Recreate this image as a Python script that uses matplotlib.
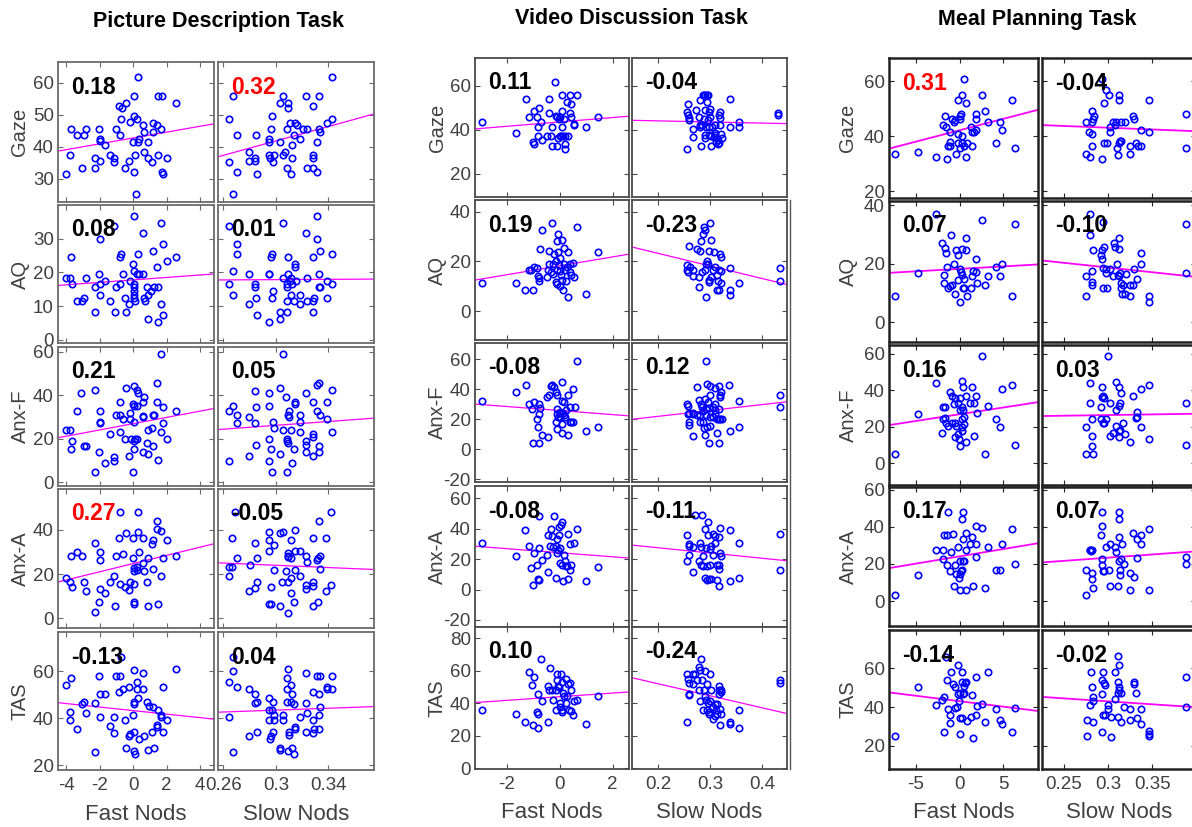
import matplotlib
matplotlib.use('Agg')
import matplotlib.pyplot as plt
import numpy as np
from matplotlib.lines import Line2D

plt.rcParams['font.family'] = ['Liberation Sans', 'DejaVu Sans']
plt.rcParams['axes.unicode_minus'] = False

# ---------------- data (x, y) pairs ----------------
# Picture Description Task
pd_gaze_fast = [(-4.04,31.5),(-3.76,37.5),(-3.7,45.6),(-3.36,43.6),(-3.08,33.4),(-2.96,43.6),(-2.84,45.6),(-2.3,36.6),(-2.28,33.4),(-2.04,45.6),(-2.0,42.6),(-1.96,41.8),(-1.96,35.5),(-1.68,40.5),(-1.4,37.5),(-1.14,36.6),(-1.14,35.3),(-1.0,45.6),(-0.84,52.8),(-0.76,43.6),(-0.7,48.6),(-0.64,52.0),(-0.44,53.8),(-0.48,33.4),(-0.24,35.5),(-0.16,47.8),(0.04,55.8),(0.04,49.7),(0.0,41.6),(0.04,32.3),(0.1,37.5),(0.16,25.3),(0.2,48.6),(0.28,61.8),(0.3,41.6),(0.36,42.6),(0.6,46.7),(0.64,44.7),(0.64,38.5),(0.9,41.6),(0.9,36.6),(1.12,35.3),(1.16,44.7),(1.2,47.6),(1.44,46.7),(1.46,37.5),(1.5,55.8),(1.66,45.6),(1.7,55.8),(1.74,32.3),(1.76,31.5),(2.04,36.6),(2.54,53.8)]
pd_gaze_slow = [(0.2643,48.6),(0.2641,35.4),(0.2674,55.8),(0.2674,25.3),(0.2702,43.6),(0.2702,32.3),(0.2796,38.5),(0.2796,35.5),(0.2842,36.6),(0.2842,35.5),(0.2852,43.6),(0.2855,31.5),(0.2944,41.6),(0.2949,42.6),(0.2944,37.5),(0.2954,36.6),(0.2964,45.6),(0.2967,49.7),(0.298,35.3),(0.2985,37.5),(0.3031,41.6),(0.3031,53.8),(0.3051,55.8),(0.3051,37.5),(0.3071,38.5),(0.3082,45.6),(0.3087,33.4),(0.3092,53.8),(0.3092,52.0),(0.3107,47.6),(0.3115,31.5),(0.312,36.6),(0.3122,40.5),(0.3138,43.6),(0.3148,47.6),(0.3158,46.7),(0.3183,42.6),(0.3209,45.6),(0.3227,55.8),(0.3234,33.4),(0.3234,45.6),(0.3285,52.8),(0.3285,37.5),(0.3285,33.4),(0.3285,36.6),(0.331,41.6),(0.3316,32.3),(0.3326,55.8),(0.3326,45.6),(0.3336,44.7),(0.3387,47.6),(0.3425,48.6),(0.3425,61.8)]
pd_aq_fast = [(-4.04,18.5),(-3.76,18.5),(-3.68,16.6),(-3.7,24.5),(-3.36,11.5),(-3.08,11.5),(-2.96,12.5),(-2.84,18.5),(-2.3,15.6),(-2.28,8.2),(-2.04,19.5),(-2.0,16.6),(-1.96,29.8),(-1.96,13.4),(-1.68,17.5),(-1.4,11.5),(-1.14,33.7),(-1.1,8.2),(-1.0,15.6),(-0.76,24.5),(-0.7,25.5),(-0.76,16.6),(-0.6,19.5),(-0.48,12.5),(-0.4,8.2),(-0.24,10.6),(-0.16,17.5),(0.04,36.7),(0.0,22.5),(0.08,20.5),(0.04,16.6),(0.04,15.6),(0.04,14.4),(0.04,13.4),(0.08,12.5),(0.12,11.5),(0.2,19.5),(0.28,25.5),(0.36,19.5),(0.6,19.5),(0.6,31.6),(0.64,12.5),(0.68,11.5),(0.84,15.6),(0.9,6.3),(0.9,13.4),(1.04,14.4),(1.16,26.5),(1.24,15.6),(1.4,21.6),(1.5,15.6),(1.46,5.3),(1.64,10.6),(1.68,34.7),(1.76,28.5),(1.8,7.3),(2.04,23.5),(2.56,24.5)]
pd_aq_slow = [(0.2641,33.7),(0.27,28.5),(0.27,25.5),(0.2674,20.5),(0.2643,16.6),(0.2674,13.4),(0.2796,19.5),(0.2796,10.6),(0.2842,16.6),(0.2842,15.6),(0.2852,12.5),(0.2855,7.3),(0.2944,19.5),(0.2949,19.5),(0.2959,24.5),(0.2967,25.5),(0.2967,12.5),(0.298,14.4),(0.2944,5.3),(0.3031,8.2),(0.3031,6.3),(0.3051,34.7),(0.3051,18.5),(0.3082,11.5),(0.3087,16.6),(0.3087,15.6),(0.3092,24.5),(0.3087,8.2),(0.3092,19.5),(0.3107,17.5),(0.3115,13.4),(0.3117,18.5),(0.3122,16.6),(0.3138,11.5),(0.3146,22.5),(0.3148,21.5),(0.3153,17.5),(0.3183,13.4),(0.3183,10.6),(0.3227,31.6),(0.3234,18.5),(0.3234,11.5),(0.3285,24.5),(0.3285,11.5),(0.3285,8.2),(0.329,12.5),(0.3316,36.7),(0.3316,29.8),(0.3326,19.5),(0.3336,26.5),(0.3326,15.6),(0.3336,15.6),(0.3387,17.5),(0.3387,12.5),(0.3425,25.5),(0.3425,16.6)]
pd_anxf_fast = [(1.66,59.1),(-3.1,40.9),(-2.3,42.5),(-3.36,32.9),(-2.0,32.9),(-0.8,37.1),(-0.44,43.2),(0.04,44.3),(0.24,42.5),(0.3,41.2),(0.64,39.1),(0.56,37.1),(0.0,36.0),(0.08,35.1),(0.2,35.1),(1.44,45.5),(1.4,37.1),(1.76,34.5),(2.56,32.9),(-1.0,30.9),(-0.76,30.9),(-0.16,31.7),(0.6,30.5),(1.24,30.9),(-4.04,24.0),(-3.76,24.0),(-3.68,19.1),(-3.7,15.1),(-2.96,16.8),(-2.84,16.8),(-2.3,4.8),(-2.04,14.0),(-2.0,27.8),(-1.96,27.1),(-1.68,8.9),(-1.4,22.2),(-1.16,9.7),(-1.12,11.7),(-0.76,23.1),(-0.6,28.9),(-0.48,19.8),(-0.24,12.0),(-0.2,28.9),(-0.1,19.8),(0.04,27.8),(0.04,19.1),(0.1,19.8),(0.0,4.8),(0.04,15.1),(0.2,19.8),(0.6,30.1),(0.6,14.0),(0.84,17.9),(0.9,24.0),(0.9,13.1),(1.16,16.8),(1.12,25.1),(1.2,30.9),(1.46,10.2),(1.64,23.1),(1.76,27.1),(2.04,19.8)]
pd_anxf_slow = [(0.3051,59.1),(0.2643,32.9),(0.2674,35.1),(0.2702,30.9),(0.2796,30.1),(0.2842,42.1),(0.2852,34.5),(0.2944,35.1),(0.2949,40.9),(0.3031,43.2),(0.3077,39.1),(0.3097,32.9),(0.3143,37.1),(0.3148,36.0),(0.3092,30.9),(0.3183,30.9),(0.3229,41.2),(0.3285,37.1),(0.331,44.8),(0.3326,45.5),(0.3316,32.9),(0.3336,30.9),(0.3387,37.1),(0.3425,42.5),(0.2643,9.8),(0.2702,27.1),(0.2796,12.0),(0.2842,27.1),(0.2852,17.1),(0.2944,19.8),(0.2944,9.8),(0.2964,15.1),(0.2967,4.8),(0.298,27.8),(0.2985,24.8),(0.3031,12.9),(0.3051,24.0),(0.3087,19.8),(0.3087,19.1),(0.3092,17.9),(0.3087,4.8),(0.3097,30.1),(0.3115,24.0),(0.312,8.9),(0.3138,15.1),(0.3183,27.8),(0.3183,23.1),(0.3227,19.1),(0.3229,17.1),(0.3229,13.8),(0.3285,22.2),(0.3285,20.6),(0.3285,12.0),(0.3331,16.8),(0.3326,13.8),(0.3387,28.9),(0.3425,23.1)]
pd_anxa_fast = [(-4.04,18.3),(-3.76,16.6),(-3.7,28.2),(-3.68,14.3),(-3.36,30.2),(-3.08,28.2),(-2.96,16.6),(-2.84,12.5),(-2.3,34.3),(-2.28,2.6),(-2.04,7.2),(-2.0,30.2),(-1.96,26.4),(-1.96,13.3),(-1.68,11.3),(-1.4,16.6),(-1.16,19.2),(-1.1,5.6),(-1.0,28.2),(-0.84,36.2),(-0.76,48.3),(-0.76,15.4),(-0.6,29.3),(-0.48,14.3),(-0.44,38.5),(-0.24,12.8),(-0.2,16.6),(0.0,27.5),(0.0,36.2),(0.04,15.4),(0.04,22.6),(0.04,21.6),(0.08,7.2),(0.08,6.3),(0.2,23.4),(0.24,21.9),(0.28,48.3),(0.3,39.2),(0.32,30.2),(0.56,25.2),(0.6,36.2),(0.64,21.4),(0.84,16.6),(0.9,5.6),(0.9,27.5),(1.12,33.5),(1.16,22.2),(1.2,35.5),(1.4,40.3),(1.44,44.1),(1.48,6.3),(1.64,19.2),(1.68,39.7),(1.76,27.5),(2.04,35.5),(2.56,28.2)]
pd_anxa_slow = [(0.2689,48.3),(0.2669,36.2),(0.2643,23.3),(0.2669,23.3),(0.2643,19.0),(0.2702,27.3),(0.2799,24.2),(0.2855,27.3),(0.2796,12.4),(0.2837,13.5),(0.2855,16.5),(0.2842,34.2),(0.2944,39.2),(0.2949,35.3),(0.2982,33.2),(0.2949,30.3),(0.3031,38.5),(0.3054,39.2),(0.3148,40.1),(0.3112,35.3),(0.2982,22.0),(0.2964,14.2),(0.2947,6.4),(0.2964,6.4),(0.3031,5.3),(0.3089,2.3),(0.3089,29.4),(0.3089,28.2),(0.3094,27.9),(0.3112,27.1),(0.3143,30.3),(0.3183,30.3),(0.3076,21.2),(0.3148,22.0),(0.3181,19.0),(0.3112,18.0),(0.3089,16.2),(0.3048,16.2),(0.3115,11.2),(0.314,7.1),(0.3227,28.3),(0.3237,25.6),(0.3283,36.2),(0.3313,26.5),(0.3321,27.3),(0.3339,28.3),(0.3334,22.3),(0.3227,15.1),(0.3227,13.2),(0.3286,16.2),(0.3286,14.4),(0.3286,5.3),(0.3321,7.1),(0.3385,36.2),(0.3326,44.0),(0.3423,48.3),(0.3385,12.4),(0.3423,15.0)]
pd_tas_fast = [(-4.04,54.0),(-3.76,42.7),(-3.7,57.0),(-3.76,39.3),(-3.36,35.3),(-3.08,46.0),(-2.96,47.0),(-2.84,42.1),(-2.3,25.4),(-2.28,46.2),(-2.04,58.0),(-2.0,40.3),(-1.96,50.2),(-1.68,50.2),(-1.4,36.6),(-1.14,33.5),(-1.14,40.3),(-1.0,58.0),(-0.84,51.2),(-0.76,58.0),(-0.7,65.8),(-0.6,52.2),(-0.48,39.3),(-0.44,27.2),(-0.24,53.2),(-0.24,32.5),(-0.16,33.2),(0.0,41.3),(0.04,60.4),(0.04,46.0),(0.08,47.0),(0.08,25.8),(0.12,24.7),(0.08,34.2),(0.2,55.2),(0.24,52.2),(0.28,48.5),(0.36,31.1),(0.6,59.0),(0.6,52.2),(0.64,32.5),(0.84,47.0),(0.9,26.5),(0.92,45.2),(1.12,34.2),(1.16,44.5),(1.24,27.2),(1.4,36.0),(1.44,37.0),(1.48,43.4),(1.64,41.3),(1.68,40.3),(1.76,53.2),(1.8,34.2),(2.04,39.3),(2.56,60.9)]
pd_tas_slow = [(0.2641,40.3),(0.2643,55.2),(0.2674,65.8),(0.2674,60.1),(0.2702,53.2),(0.2674,25.4),(0.2796,52.2),(0.2796,32.5),(0.2842,50.2),(0.2842,46.2),(0.2855,47.0),(0.2855,34.2),(0.2944,48.5),(0.2944,43.4),(0.2949,39.3),(0.2954,31.1),(0.2964,32.5),(0.2967,43.4),(0.298,47.0),(0.298,34.2),(0.2985,41.3),(0.2985,39.3),(0.3031,27.2),(0.3031,26.5),(0.3051,41.3),(0.3051,39.3),(0.3082,47.0),(0.3087,57.2),(0.3087,52.2),(0.3092,60.9),(0.3092,25.8),(0.3097,33.9),(0.3097,32.8),(0.3112,47.0),(0.3117,54.2),(0.312,50.2),(0.3122,27.2),(0.3138,24.7),(0.3138,46.0),(0.3143,35.3),(0.3148,36.0),(0.3183,40.3),(0.3227,59.0),(0.3229,46.2),(0.3229,34.2),(0.3239,42.0),(0.3285,51.2),(0.3285,39.3),(0.3285,33.5),(0.329,35.3),(0.331,58.0),(0.3326,50.2),(0.3336,58.0),(0.3336,44.5),(0.3326,41.3),(0.3331,35.3),(0.3387,53.2),(0.3387,52.2),(0.3425,58.0),(0.3425,52.2)]

# Video Discussion Task
vd_gaze_fast = [(-2.94,43.5),(-1.65,38.6),(-1.27,54.0),(-1.15,45.7),(-0.98,48.7),(-1.02,34.4),(-0.98,33.5),(-0.86,45.7),(-0.81,41.5),(-0.78,49.8),(-0.71,43.8),(-0.81,37.4),(-0.68,35.6),(-0.48,37.4),(-0.40,47.7),(-0.38,54.0),(-0.33,37.4),(-0.29,41.5),(-0.28,32.6),(-0.19,61.8),(-0.15,46.5),(-0.10,45.7),(-0.08,32.6),(-0.05,36.5),(-0.03,45.0),(0.0,37.4),(0.03,45.7),(0.05,37.1),(0.08,41.5),(0.08,48.7),(0.10,55.8),(0.13,37.4),(0.15,45.0),(0.20,33.5),(0.20,31.4),(0.20,37.4),(0.28,52.8),(0.33,37.4),(0.38,55.8),(0.38,47.7),(0.43,51.6),(0.45,45.7),(0.53,42.7),(0.56,42.3),(0.66,55.8),(1.00,41.5),(1.44,45.7)]
vd_gaze_slow = [(0.2571,51.7),(0.2564,48.2),(0.2577,46.7),(0.259,45.6),(0.2603,44.7),(0.2558,31.5),(0.2667,40.6),(0.2667,36.8),(0.2737,48.9),(0.2782,45.9),(0.2814,53.8),(0.2833,32.6),(0.2846,42.4),(0.2859,55.8),(0.2885,55.8),(0.291,55.8),(0.2936,55.8),(0.2962,55.8),(0.2885,45.1),(0.291,48.9),(0.2942,52.7),(0.2974,48.2),(0.2999,49.7),(0.2962,44.7),(0.2923,41.4),(0.2974,41.4),(0.3038,41.4),(0.3006,45.9),(0.291,37.6),(0.2974,37.6),(0.291,36.1),(0.3013,37.1),(0.3013,32.6),(0.2814,42.4),(0.2808,41.4),(0.309,42.4),(0.3077,36.8),(0.3103,37.6),(0.3115,34.5),(0.3154,35.6),(0.3154,33.8),(0.318,33.9),(0.3199,48.2),(0.318,46.7),(0.3199,45.6),(0.3218,38.3),(0.3231,36.1),(0.3199,42.4),(0.309,38.8),(0.3378,53.9),(0.3378,41.4),(0.3564,43.6),(0.3564,41.4),(0.4317,47.7),(0.4317,46.7)]
vd_aq_fast = [(-2.94,11.5),(-1.65,11.5),(-1.29,8.5),(-1.01,8.5),(-1.15,16.4),(-1.06,16.6),(-0.98,17.7),(-0.86,17.4),(-0.81,14.2),(-0.78,12.3),(-0.78,13.4),(-0.73,25.1),(-0.68,32.8),(-0.48,13.6),(-0.43,16.6),(-0.40,19.1),(-0.38,24.2),(-0.33,15.7),(-0.29,35.5),(-0.25,19.1),(-0.23,15.0),(-0.20,23.1),(-0.15,20.1),(-0.15,11.6),(-0.10,16.4),(-0.08,28.2),(-0.08,10.9),(-0.05,31.2),(-0.05,23.8),(-0.03,18.4),(0.0,21.5),(0.0,9.9),(0.03,16.1),(0.05,14.7),(0.08,28.8),(0.10,12.6),(0.13,8.5),(0.15,25.5),(0.18,19.1),(0.20,16.6),(0.23,12.3),(0.28,17.7),(0.33,23.8),(0.33,5.8),(0.38,15.7),(0.40,19.1),(0.45,14.7),(0.50,19.3),(0.56,13.6),(0.66,33.9),(1.00,6.9),(1.44,23.8)]
vd_aq_slow = [(0.2561,18.4),(0.2561,16.6),(0.2574,15.7),(0.2587,26.1),(0.2613,17.7),(0.2665,14.3),(0.2677,16.6),(0.2742,25.1),(0.2781,9.6),(0.2794,13.6),(0.2806,24.2),(0.2832,28.2),(0.2845,15.7),(0.2871,31.2),(0.2884,33.9),(0.2897,16.6),(0.291,32.8),(0.2923,5.8),(0.2923,19.1),(0.2935,20.1),(0.2961,19.1),(0.2974,11.6),(0.2987,24.2),(0.2987,12.6),(0.3,35.5),(0.3013,28.8),(0.3026,13.6),(0.3052,16.6),(0.3077,23.8),(0.3103,17.7),(0.3129,14.7),(0.3142,8.5),(0.3155,12.3),(0.3181,16.4),(0.3181,8.5),(0.3194,23.1),(0.3206,21.8),(0.3206,16.1),(0.3219,11.5),(0.3387,17.3),(0.3387,8.5),(0.3387,6.6),(0.3568,11.5),(0.4342,17.3),(0.4342,12.3)]
vd_anxf_fast = [(-2.94,32.5),(-1.65,37.9),(-1.27,42.6),(-1.15,30.3),(-0.98,31.8),(-0.78,30.3),(-0.73,27.4),(-1.03,26.7),(-0.48,34.8),(-0.40,36.3),(-0.33,41.9),(-0.28,43.0),(-0.20,41.5),(-0.15,38.5),(-0.10,36.3),(0.08,44.6),(0.08,32.5),(0.15,31.8),(0.33,36.3),(0.40,28.4),(0.50,40.1),(0.58,28.4),(0.66,58.7),(-0.08,27.0),(0.0,24.0),(0.13,24.0),(-1.01,4.3),(-0.78,4.3),(-0.43,7.9),(-0.68,9.4),(-0.86,20.0),(-0.81,14.6),(-0.78,23.5),(-0.15,18.4),(-0.10,23.5),(-0.08,13.2),(-0.05,21.7),(0.0,25.1),(0.03,21.7),(0.08,11.0),(0.10,16.8),(0.15,22.9),(0.20,21.3),(0.23,26.2),(0.33,9.4),(0.38,18.4),(0.45,18.4),(0.50,18.1),(1.00,12.3),(1.44,14.6)]
vd_anxf_slow = [(0.2923,58.7),(0.2742,41.5),(0.2948,43.7),(0.3,41.9),(0.3097,40.8),(0.3181,41.9),(0.3206,38.5),(0.3194,35.2),(0.3374,43.0),(0.3568,32.5),(0.4342,36.3),(0.4342,28.4),(0.2561,30.3),(0.2574,28.9),(0.2587,24.0),(0.2665,24.0),(0.2794,32.9),(0.2832,30.3),(0.2845,28.4),(0.2871,25.7),(0.291,33.4),(0.2923,26.7),(0.2961,31.8),(0.3,36.3),(0.3065,28.4),(0.3103,30.3),(0.3181,26.7),(0.3194,36.3),(0.2987,27.4),(0.2574,23.5),(0.2587,18.4),(0.2587,16.1),(0.2665,8.7),(0.2677,23.5),(0.2742,22.9),(0.2806,22.9),(0.2806,18.1),(0.2871,18.4),(0.2884,13.9),(0.291,9.4),(0.2923,22.9),(0.2935,14.6),(0.2987,4.3),(0.3,21.7),(0.3,15.3),(0.3065,21.7),(0.309,26.2),(0.3129,20.0),(0.3142,11.0),(0.3168,20.0),(0.3181,4.3),(0.3194,20.0),(0.3232,20.0),(0.3387,12.3),(0.3568,14.6),(0.3103,23.5)]
vd_anxa_fast = [(-2.94,30.7),(-1.65,21.9),(-1.29,38.8),(-1.15,28.9),(-1.01,2.8),(-0.98,23.7),(-1.06,14.0),(-0.86,16.4),(-0.81,7.0),(-0.78,6.1),(-0.78,27.4),(-0.78,48.2),(-0.68,19.7),(-0.48,22.6),(-0.43,11.8),(-0.43,35.5),(-0.33,39.5),(-0.35,28.9),(-0.28,35.1),(-0.25,28.1),(-0.20,48.2),(-0.15,28.5),(-0.15,7.7),(-0.10,33.5),(-0.08,23.7),(-0.05,25.9),(-0.03,35.5),(-0.03,41.2),(0.0,17.5),(0.03,27.4),(0.05,42.7),(0.08,44.5),(0.10,16.4),(0.13,5.9),(0.15,23.0),(0.20,18.6),(0.23,15.3),(0.28,15.3),(0.33,36.8),(0.33,7.0),(0.38,12.7),(0.40,29.6),(0.45,16.4),(0.56,30.7),(0.66,39.9),(1.00,5.9),(1.44,14.7)]
vd_anxa_slow = [(0.2561,35.5),(0.2561,18.6),(0.2587,29.6),(0.2587,28.5),(0.26,22.8),(0.2665,28.1),(0.2677,11.8),(0.2716,48.7),(0.2794,18.6),(0.2806,30.7),(0.2832,28.1),(0.2832,16.4),(0.2845,48.7),(0.2858,21.9),(0.2871,15.3),(0.291,39.5),(0.291,7.7),(0.2923,27.4),(0.2935,15.3),(0.2948,6.1),(0.2961,44.3),(0.2961,35.7),(0.2974,7.0),(0.3,26.3),(0.3,16.4),(0.3013,28.5),(0.3026,7.0),(0.3052,36.8),(0.3065,23.0),(0.309,30.7),(0.3103,35.1),(0.3129,16.4),(0.3142,6.1),(0.3168,34.4),(0.3181,16.4),(0.3181,13.6),(0.3181,2.6),(0.3194,40.5),(0.3194,23.7),(0.3206,21.9),(0.3387,38.8),(0.3387,5.9),(0.3568,30.7),(0.3568,7.7),(0.4342,36.6),(0.4342,12.7)]
vd_tas_fast = [(-2.94,35.9),(-1.65,33.0),(-1.29,28.1),(-1.01,26.3),(-0.81,24.8),(-1.15,58.9),(-0.98,56.0),(-1.03,50.9),(-0.81,45.7),(-0.86,34.5),(-0.81,33.0),(-0.71,67.3),(-0.68,41.2),(-0.43,28.1),(-0.43,50.7),(-0.35,61.7),(-0.40,48.2),(-0.28,48.2),(-0.25,41.6),(-0.15,48.2),(-0.15,35.5),(-0.10,58.1),(-0.08,53.9),(-0.05,50.7),(-0.03,49.8),(0.0,40.0),(0.03,37.5),(0.05,58.1),(0.08,35.5),(0.10,52.9),(0.10,34.5),(0.13,46.2),(0.18,44.1),(0.23,40.0),(0.25,55.0),(0.28,44.1),(0.33,51.9),(0.35,35.5),(0.40,52.3),(0.43,35.1),(0.45,48.2),(0.50,32.4),(0.53,41.2),(0.66,41.6),(1.00,26.9),(1.44,44.1)]
vd_tas_slow = [(0.2561,28.3),(0.2561,58.1),(0.2574,55.0),(0.2587,52.3),(0.2587,44.7),(0.26,45.7),(0.2665,51.9),(0.2677,58.1),(0.2716,58.1),(0.2742,53.9),(0.2781,62.2),(0.2794,48.2),(0.2806,60.1),(0.2806,41.2),(0.2832,67.3),(0.2845,54.4),(0.2871,35.5),(0.2884,47.8),(0.2897,59.7),(0.291,44.1),(0.2923,41.6),(0.2935,35.9),(0.2935,51.5),(0.2961,40.0),(0.2974,34.5),(0.2987,33.0),(0.3,58.1),(0.3,41.2),(0.3026,48.2),(0.3052,37.5),(0.3065,30.4),(0.309,31.8),(0.3103,39.2),(0.3116,35.5),(0.3129,39.6),(0.3142,33.0),(0.3168,47.8),(0.3181,50.7),(0.3181,45.7),(0.3194,36.5),(0.3194,26.3),(0.3206,33.0),(0.3206,48.2),(0.3219,46.8),(0.3387,28.3),(0.3387,26.9),(0.3568,35.9),(0.3568,24.8),(0.4342,53.9),(0.4342,52.3)]

# Meal Planning Task
mp_gaze_fast = [(-7.37,33.6),(-4.81,34.3),(-2.71,32.5),(-1.91,44.2),(-1.68,47.3),(-1.53,43.3),(-1.45,31.5),(-1.30,36.5),(-1.15,36.5),(-1.07,41.5),(-1.15,37.9),(-0.84,46.4),(-0.69,45.2),(-0.53,46.0),(-0.38,33.4),(-0.23,53.2),(-0.15,37.6),(-0.15,40.6),(0.0,46.4),(0.0,35.5),(0.08,47.3),(0.15,48.1),(0.23,55.1),(0.31,40.0),(0.31,37.6),(0.46,60.9),(0.53,36.5),(0.69,52.1),(0.76,32.5),(0.84,37.6),(1.37,36.5),(1.30,43.3),(1.45,41.5),(1.60,41.6),(1.91,42.4),(1.91,48.1),(1.91,46.4),(2.52,55.1),(2.90,49.1),(3.28,45.2),(4.20,37.6),(4.58,45.2),(4.81,42.2),(5.95,53.1),(6.34,35.5)]
mp_gaze_slow = [(0.2755,33.6),(0.2792,32.5),(0.2755,45.2),(0.2785,41.6),(0.2815,40.6),(0.2823,45.2),(0.2823,36.5),(0.2823,49.3),(0.283,46.4),(0.2838,47.3),(0.2925,31.5),(0.2928,60.9),(0.2951,37.6),(0.2958,52.1),(0.2974,56.6),(0.2989,37.6),(0.3004,55.1),(0.3019,41.6),(0.3026,43.3),(0.3057,45.2),(0.3072,44.2),(0.3087,45.2),(0.3102,35.5),(0.3109,33.1),(0.3117,55.1),(0.3117,37.6),(0.3125,53.2),(0.3132,38.4),(0.314,45.2),(0.3147,38.2),(0.3185,45.2),(0.3245,33.6),(0.3245,36.5),(0.3283,47.3),(0.3291,46.4),(0.3313,37.6),(0.3336,36.5),(0.3366,42.4),(0.3374,36.5),(0.3457,41.5),(0.3457,53.1),(0.3879,48.2),(0.3879,35.5)]
mp_aq_fast = [(-7.37,8.8),(-4.81,16.8),(-2.71,36.8),(-1.98,26.9),(-1.68,25.4),(-1.53,23.7),(-1.45,18.9),(-1.76,16.0),(-1.83,13.5),(-1.30,11.7),(-1.15,12.3),(-0.99,29.7),(-0.84,12.8),(-0.61,19.7),(-0.53,9.7),(-0.38,24.6),(-0.23,14.3),(-0.15,22.9),(0.0,6.9),(0.0,18.1),(0.15,17.1),(0.23,25.1),(0.31,16.0),(0.38,11.7),(0.46,14.9),(0.53,11.7),(0.69,24.6),(0.76,28.8),(0.84,8.8),(1.30,11.7),(1.37,15.8),(1.53,17.4),(1.91,17.1),(1.91,21.7),(1.98,13.5),(2.52,34.9),(2.90,12.6),(3.28,15.8),(4.20,18.9),(4.58,15.8),(4.81,19.7),(5.95,8.8),(6.34,33.7)]
mp_aq_slow = [(0.2755,8.8),(0.2755,15.8),(0.2792,36.8),(0.2792,29.7),(0.2815,13.7),(0.2823,12.6),(0.2823,17.4),(0.283,24.6),(0.2921,22.9),(0.2928,21.7),(0.2936,24.6),(0.2943,11.7),(0.2943,18.5),(0.2951,25.7),(0.2974,18.1),(0.2981,16.9),(0.2992,11.7),(0.3026,18.1),(0.3057,15.8),(0.3064,26.9),(0.308,25.7),(0.3102,19.7),(0.3109,16.0),(0.3117,28.8),(0.3125,24.9),(0.3117,15.8),(0.3132,16.9),(0.314,11.7),(0.3147,13.5),(0.3155,9.7),(0.317,12.8),(0.3185,9.7),(0.32,16.6),(0.3245,8.8),(0.3245,12.6),(0.3283,12.6),(0.3291,18.1),(0.3321,14.9),(0.3366,23.7),(0.3366,19.7),(0.3457,8.8),(0.3457,6.9),(0.3879,33.7),(0.3879,16.8),(0.2943,34.1)]
mp_anxf_fast = [(-4.81,27.0),(-2.71,43.9),(-1.91,30.7),(-1.68,30.7),(-1.15,39.3),(-0.92,36.9),(-0.69,32.5),(-0.53,35.6),(-0.15,32.9),(0.0,35.6),(0.31,45.3),(0.38,42.0),(0.38,29.2),(0.23,30.7),(0.69,36.9),(1.15,32.9),(1.45,41.7),(1.60,32.9),(1.91,36.9),(1.98,27.4),(2.52,59.0),(3.28,31.4),(4.81,40.6),(5.95,43.0),(0.0,29.2),(-7.37,5.0),(-1.91,24.1),(-1.68,24.6),(-1.98,16.7),(-1.30,20.4),(-1.53,21.9),(-0.84,21.9),(-0.53,22.2),(-0.38,20.4),(-0.53,14.2),(-0.23,16.0),(-0.08,13.0),(0.0,9.4),(0.23,20.0),(0.31,24.1),(0.31,17.8),(0.46,21.5),(0.53,25.5),(0.76,11.7),(1.60,14.9),(2.90,5.0),(4.20,24.1),(4.58,20.0),(6.34,9.9)]
mp_anxf_slow = [(0.2792,43.9),(0.2928,41.7),(0.2943,36.9),(0.2936,36.4),(0.2951,35.6),(0.2996,59.0),(0.2792,32.9),(0.2921,30.7),(0.3026,32.9),(0.3094,44.6),(0.3117,41.7),(0.3132,32.9),(0.3147,38.7),(0.3125,31.4),(0.3283,36.9),(0.3366,40.6),(0.3457,43.0),(0.3879,32.9),(0.3094,29.2),(0.3321,28.1),(0.2755,20.0),(0.2755,5.0),(0.2823,24.1),(0.2823,14.9),(0.2823,9.4),(0.283,5.0),(0.2921,24.1),(0.2943,21.9),(0.2958,22.2),(0.2981,24.1),(0.3026,14.9),(0.3057,16.7),(0.3094,20.4),(0.3117,14.2),(0.3125,17.8),(0.3132,18.1),(0.317,22.2),(0.3185,16.0),(0.3245,11.7),(0.3313,24.6),(0.3328,25.5),(0.3366,20.0),(0.3457,13.0),(0.3879,9.9)]
mp_anxa_fast = [(-7.37,3.1),(-4.81,13.9),(-2.71,27.6),(-1.91,27.6),(-1.91,22.5),(-1.76,35.5),(-1.45,35.5),(-1.45,19.3),(-1.30,48.3),(-1.15,16.4),(-0.99,26.7),(-0.76,36.2),(-0.53,19.3),(-0.61,8.1),(-0.38,14.6),(-0.23,29.4),(0.0,5.9),(-0.08,12.3),(0.0,21.8),(0.08,14.6),(0.15,16.0),(0.23,16.8),(0.31,44.3),(0.38,48.3),(0.38,21.6),(0.38,33.7),(0.53,21.8),(0.69,36.6),(0.76,27.6),(0.76,5.9),(1.15,30.6),(1.45,34.4),(1.53,8.1),(1.83,24.0),(1.91,40.7),(2.52,39.6),(1.91,30.6),(2.90,6.8),(3.28,29.0),(4.20,16.8),(4.58,16.8),(4.81,30.6),(5.95,38.7),(6.34,19.8)]
mp_anxa_slow = [(0.2755,3.1),(0.2755,16.8),(0.2792,27.6),(0.28,27.6),(0.2808,26.8),(0.2815,27.6),(0.2823,15.0),(0.2823,11.7),(0.283,6.8),(0.2928,48.3),(0.2921,35.5),(0.2936,40.5),(0.2928,22.9),(0.2928,19.3),(0.2943,16.4),(0.2951,16.4),(0.2974,29.4),(0.3004,16.8),(0.3026,30.6),(0.3026,8.1),(0.3072,29.4),(0.3094,26.7),(0.3109,8.1),(0.3117,48.3),(0.3117,44.3),(0.3117,34.4),(0.3117,21.8),(0.3132,13.9),(0.3132,16.8),(0.3147,22.5),(0.3155,30.6),(0.3177,20.0),(0.3245,5.9),(0.3245,15.0),(0.3283,36.6),(0.3291,12.8),(0.3321,23.1),(0.3328,33.7),(0.3366,30.6),(0.3374,35.5),(0.3457,38.7),(0.3457,5.9),(0.3879,24.0),(0.3879,19.8)]
mp_tas_fast = [(-7.37,25.0),(-4.81,50.2),(-2.71,41.2),(-1.83,45.1),(-1.98,43.7),(-1.76,27.2),(-1.45,54.0),(-1.53,65.9),(-1.30,39.1),(-1.15,35.7),(-1.15,31.8),(-0.99,57.9),(-0.76,51.6),(-0.53,50.2),(-0.53,39.7),(-0.31,40.0),(-0.23,61.3),(-0.15,46.8),(-0.08,43.1),(0.0,26.4),(0.08,47.1),(0.23,57.9),(0.23,52.8),(0.31,34.6),(0.38,46.8),(0.46,50.6),(0.53,47.1),(0.61,52.3),(0.76,52.8),(0.84,32.9),(1.30,34.9),(1.45,46.0),(1.53,24.2),(1.83,35.7),(1.91,55.3),(1.98,40.3),(2.52,41.4),(2.90,32.2),(3.28,57.9),(4.20,39.1),(4.58,33.2),(4.81,31.1),(5.95,27.2),(6.34,39.7),(0.0,34.6)]
mp_tas_slow = [(0.3112,66.2),(0.3127,61.5),(0.2801,58.1),(0.294,58.1),(0.3075,58.1),(0.2925,53.8),(0.2952,52.5),(0.2963,51.3),(0.282,50.1),(0.3112,53.0),(0.3119,50.4),(0.3127,48.7),(0.315,47.4),(0.3112,47.0),(0.3292,53.0),(0.3292,51.6),(0.2828,45.3),(0.2828,43.2),(0.2933,46.5),(0.3318,47.4),(0.2798,41.0),(0.3075,44.1),(0.3,41.0),(0.3,38.8),(0.318,39.8),(0.3244,39.1),(0.3371,39.1),(0.2944,35.9),(0.297,35.9),(0.3034,35.0),(0.3112,35.0),(0.2764,33.3),(0.2831,32.1),(0.3146,32.1),(0.3247,33.3),(0.3322,34.2),(0.3371,31.3),(0.2929,27.3),(0.3457,27.7),(0.3457,26.2),(0.3457,25.1),(0.2764,25.1),(0.3034,24.5),(0.3876,55.2),(0.3876,39.8)]

# correlation labels shown in each panel (fast, slow) and significance flags
row_labels = ['Gaze', 'AQ', 'Anx-F', 'Anx-A', 'TAS']
pd_r = [('0.18', '0.32'), ('0.08', '0.01'), ('0.21', '0.05'), ('0.27', '-0.05'), ('-0.13', '0.04')]
pd_sig = [(False, True), (False, False), (False, False), (True, False), (False, False)]
vd_r = [('0.11', '-0.04'), ('0.19', '-0.23'), ('-0.08', '0.12'), ('-0.08', '-0.11'), ('0.10', '-0.24')]
vd_sig = [(False, False)] * 5
mp_r = [('0.31', '-0.04'), ('0.07', '-0.10'), ('0.16', '0.03'), ('0.17', '0.07'), ('-0.14', '-0.02')]
mp_sig = [(True, False), (False, False), (False, False), (False, False), (False, False)]

# --------------------------- layout ---------------------------
W, H = 1192, 827
fig = plt.figure(figsize=(W / 100, H / 100), dpi=100)


def rect(x1, y1, x2, y2):
    return [x1 / W, 1 - y2 / H, (x2 - x1) / W, (y2 - y1) / H]


groups = [
    dict(title='Picture Description Task', tx=218, ty=22,
         cols=[(58, 214), (218, 374)],
         rows=[(62, 202), (205, 343), (347, 486), (489, 628), (632, 770)],
         xlims=[(-4.5, 4.84), (0.2559, 0.3747)],
         xticks=[[-4, -2, 0, 2, 4], [0.26, 0.30, 0.34]],
         xtl=[['-4', '-2', '0', '2', '4'], ['0.26', '0.3', '0.34']],
         ylims=[(22.8, 66.5), (-0.9, 40), (-1.8, 62.3), (-4.5, 58.6), (17.9, 76.6)],
         yticks=[[30, 40, 50, 60], [0, 10, 20, 30], [0, 20, 40, 60], [0, 20, 40], [20, 40, 60]],
         data=[[pd_gaze_fast, pd_gaze_slow], [pd_aq_fast, pd_aq_slow], [pd_anxf_fast, pd_anxf_slow],
               [pd_anxa_fast, pd_anxa_slow], [pd_tas_fast, pd_tas_slow]],
         r=pd_r, sig=pd_sig, ylab_x=20, fc='#6a6a6a', flw=1.3, llw=0.9),
    dict(title='Video Discussion Task', tx=631, ty=18,
         cols=[(475, 629), (632, 787)],
         rows=[(58, 197), (200, 340), (343, 482), (486, 627), (627, 769)],
         xlims=[(-3.19, 2.62), (0.1497, 0.4484)],
         xticks=[[-2, 0, 2], [0.2, 0.3, 0.4]],
         xtl=[['-2', '0', '2'], ['0.2', '0.3', '0.4']],
         ylims=[(9.5, 72.7), (-11.7, 44.8), (-22, 71), (-24.6, 68), (-0.6, 86.8)],
         yticks=[[20, 40, 60], [0, 20, 40], [-20, 0, 20, 40, 60], [-20, 0, 20, 40, 60], [0, 20, 40, 60, 80]],
         data=[[vd_gaze_fast, vd_gaze_slow], [vd_aq_fast, vd_aq_slow], [vd_anxf_fast, vd_anxf_slow],
               [vd_anxa_fast, vd_anxa_slow], [vd_tas_fast, vd_tas_slow]],
         r=vd_r, sig=vd_sig, ylab_x=437, fc='#4a4a4a', flw=1.3, llw=0.9),
    dict(title='Meal Planning Task', tx=1037, ty=20,
         cols=[(889, 1038), (1042, 1196)],
         rows=[(58, 198), (201, 342), (345, 485), (487, 626), (630, 769)],
         xlims=[(-8.09, 8.97), (0.2253, 0.3992)],
         xticks=[[-5, 0, 5], [0.25, 0.30, 0.35]],
         xtl=[['-5', '0', '5'], ['0.25', '0.3', '0.35']],
         ylims=[(17.5, 68.4), (-6.8, 41.4), (-12, 64.9), (-13.5, 61.6), (8.2, 79.5)],
         yticks=[[20, 40, 60], [0, 20, 40], [0, 20, 40, 60], [0, 20, 40, 60], [20, 40, 60]],
         data=[[mp_gaze_fast, mp_gaze_slow], [mp_aq_fast, mp_aq_slow], [mp_anxf_fast, mp_anxf_slow],
               [mp_anxa_fast, mp_anxa_slow], [mp_tas_fast, mp_tas_slow]],
         r=mp_r, sig=mp_sig, ylab_x=848, fc='#222222', flw=1.8, llw=1.3),
]

TICK_COLOR = '#404040'

for g in groups:
    fig.text(g['tx'] / W, 1 - g['ty'] / H, g['title'], ha='center', va='center',
             fontsize=15.5, fontweight='bold', color='black')
    nrows = len(g['rows'])
    for ri, (y1, y2) in enumerate(g['rows']):
        for ci, (x1, x2) in enumerate(g['cols']):
            ax = fig.add_axes(rect(x1, y1, x2, y2))
            pts = np.array(g['data'][ri][ci], dtype=float)
            xs, ys = pts[:, 0], pts[:, 1]
            xl = g['xlims'][ci]
            coef = np.polyfit(xs, ys, 1)
            lx = np.array(xl)
            ax.plot(lx, np.polyval(coef, lx), color='#ff00ff', lw=g['llw'], zorder=2)
            ax.plot(xs, ys, linestyle='none', marker='o', mfc='none', mec='#0000ff',
                    ms=4.6, mew=1.2, zorder=3)
            ax.set_xlim(*xl)
            ax.set_ylim(*g['ylims'][ri])
            ax.set_xticks(g['xticks'][ci])
            ax.set_yticks(g['yticks'][ri])
            if ri == nrows - 1:
                ax.set_xticklabels(g['xtl'][ci])
                ax.set_xlabel('Fast Nods' if ci == 0 else 'Slow Nods', fontsize=16,
                              color=TICK_COLOR, va='center')
                ax.xaxis.set_label_coords(0.5, -(44) / (y2 - y1))
            else:
                ax.set_xticklabels([])
            if ci == 0:
                ax.set_yticklabels([str(v) for v in g['yticks'][ri]])
                ax.set_ylabel(row_labels[ri], fontsize=14.5, color=TICK_COLOR, va='center')
                ax.yaxis.set_label_coords((g['ylab_x'] - x1) / (x2 - x1), 0.5)
            else:
                ax.set_yticklabels([])
            ax.tick_params(direction='in', length=3.5, width=0.8, top=True, right=True,
                           labelsize=13.5, labelcolor=TICK_COLOR, color=g['fc'])
            ax.tick_params(axis='y', pad=3)
            ax.tick_params(axis='x', pad=5)
            for sp in ax.spines.values():
                sp.set_color(g['fc'])
                sp.set_linewidth(g['flw'])
            txt = g['r'][ri][ci]
            col = '#ff0000' if g['sig'][ri][ci] else 'black'
            ax.text(13 / (x2 - x1), 1 - 25 / (y2 - y1), txt, transform=ax.transAxes,
                    ha='left', va='center', fontsize=16.5, fontweight='bold', color=col,
                    zorder=5)

# thin partial frame edge visible right of the video task panels
fig.add_artist(Line2D([789.5 / W, 789.5 / W], [1 - 769 / H, 1 - 200 / H],
                      transform=fig.transFigure, color='#555555', lw=1.0))

fig.savefig('out.png', dpi=100)
